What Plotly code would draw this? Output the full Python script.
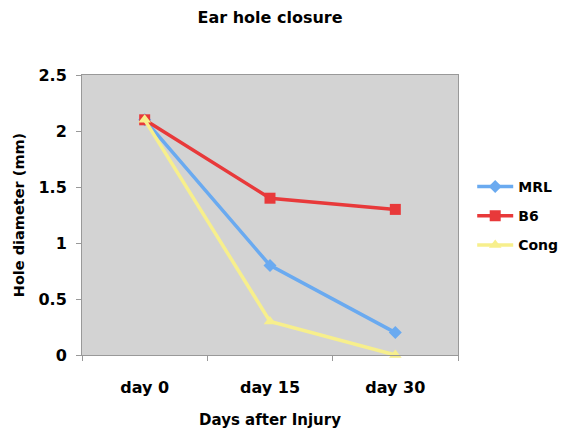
import plotly.graph_objects as go

days = ["day 0", "day 15", "day 30"]
mrl = [2.1, 0.8, 0.2]
b6 = [2.1, 1.4, 1.3]
cong = [2.1, 0.3, 0.0]

font = "DejaVu Sans, sans-serif"

fig = go.Figure()
series = [
    ("MRL", mrl, "#6aaaf0", "diamond", 10),
    ("B6", b6, "#e8393a", "square", 11),
    ("Cong", cong, "#f7ef8c", "triangle-up", 11),
]
for name, vals, col, sym, sz in series:
    fig.add_trace(go.Scatter(
        x=days, y=vals, name=name, mode="lines+markers",
        line=dict(color=col, width=3.5),
        marker=dict(symbol=sym, size=sz, color=col),
        cliponaxis=False, legendgroup=name,
    ))

fig.update_layout(
    width=562, height=421,
    margin=dict(l=74, r=112, t=67, b=74),
    paper_bgcolor="white",
    plot_bgcolor="#d3d3d3",
    title=dict(text="<b>Ear hole closure</b>", x=0.5, xanchor="center", xref="paper",
               y=0.99, yanchor="top", font=dict(family=font, size=16, color="black")),
    font=dict(family=font, color="black"),
    showlegend=True,
    legend=dict(xref="container", yref="container", x=0.826, y=0.613,
                xanchor="left", yanchor="top",
                font=dict(family=font, size=14, color="black", weight="bold"),
                bgcolor="rgba(0,0,0,0)", itemwidth=36, tracegroupgap=8),
    xaxis=dict(
        type="category", tickson="boundaries", ticks="outside", ticklen=5,
        tickcolor="#999999", showline=True, linecolor="#999999", linewidth=1,
        mirror=True, showgrid=False, range=[-0.5, 2.5], automargin=False,
        tickfont=dict(family=font, size=16, color="black", weight="bold"),
        title=dict(text="<b>Days after Injury</b>", font=dict(family=font, size=15, color="black"), standoff=24),
        ticklabelstandoff=18,
    ),
    yaxis=dict(
        range=[0, 2.5], dtick=0.5, ticks="outside", ticklen=5, tickcolor="#999999",
        showline=True, linecolor="#999999", linewidth=1, mirror=True,
        showgrid=False, zeroline=False, automargin=False,
        tickfont=dict(family=font, size=16, color="black", weight="bold"),
        tickformat="~g",
        title=dict(text="<b>Hole diameter (mm)</b>", font=dict(family=font, size=14.5, color="black"), standoff=10),
        ticklabelstandoff=6,
    ),
)

fig.write_html("out.html")
